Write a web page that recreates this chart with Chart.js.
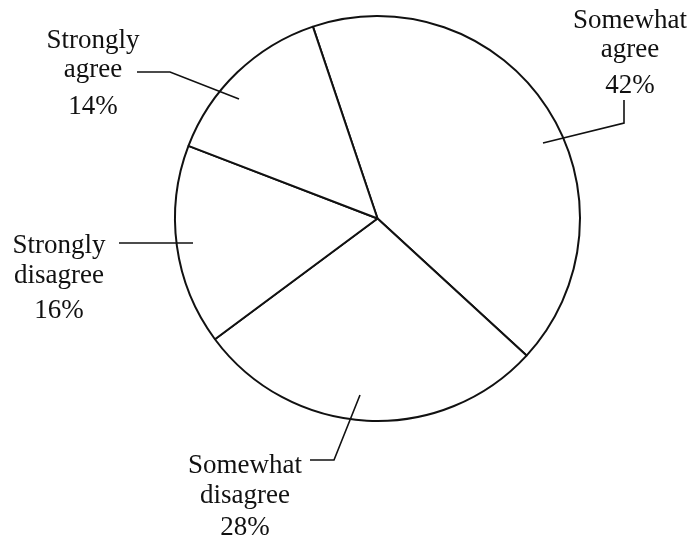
<!DOCTYPE html>
<html>
<head>
<meta charset="utf-8">
<script src="https://cdn.jsdelivr.net/npm/chart.js@4.4.0/dist/chart.umd.min.js"></script>
<style>
  body { margin: 0; background: #fff; }
</style>
</head>
<body>
<canvas id="survey" width="692" height="539"></canvas>
<script>
var categories = ["Somewhat agree", "Somewhat disagree", "Strongly disagree", "Strongly agree"];
var percents = [42, 28, 16, 14];

// label placement: text centre x, baselines of the 3 lines, leader path
var labelLayout = [
  { x: 630, lines: [28, 57, 93],    leader: [[624, 100], [624, 123], [543, 143]] },
  { x: 245, lines: [473, 503, 535], leader: [[310, 460], [334, 460], [360, 395]] },
  { x: 59,  lines: [253, 283, 318], leader: [[119, 243], [193, 243]] },
  { x: 93,  lines: [48, 77, 114],   leader: [[137, 72], [170, 72], [239, 99]] }
];

var calloutPlugin = {
  id: 'callouts',
  afterDraw: function(chart) {
    var ctx = chart.ctx;
    ctx.save();
    ctx.fillStyle = '#111';
    ctx.strokeStyle = '#111';
    ctx.lineWidth = 1.6;
    ctx.font = '27px "Liberation Serif", "Times New Roman", serif';
    ctx.textAlign = 'center';
    ctx.textBaseline = 'alphabetic';
    chart.data.labels.forEach(function(lbl, i) {
      var lay = labelLayout[i];
      var sp = lbl.indexOf(' ');
      var txt = [lbl.slice(0, sp), lbl.slice(sp + 1), chart.data.datasets[0].data[i] + '%'];
      txt.forEach(function(t, j) {
        ctx.fillText(t, lay.x, lay.lines[j]);
      });
      ctx.beginPath();
      lay.leader.forEach(function(p, k) {
        if (k == 0) ctx.moveTo(p[0], p[1]); else ctx.lineTo(p[0], p[1]);
      });
      ctx.stroke();
    });
    ctx.restore();
  }
};

var surveyChart = document.getElementById("survey").getContext('2d');
var myChart = new Chart(surveyChart, {
  type: 'pie',
  data: {
    labels: categories,
    datasets: [{
      data: percents,
      backgroundColor: '#fff',
      borderColor: '#111',
      borderWidth: 2
    }]
  },
  options: {
    responsive: false,
    animation: false,
    rotation: -18.6,
    layout: { padding: { left: 174, right: 111, top: 15, bottom: 117 } },
    plugins: {
      legend: { display: false },
      tooltip: { enabled: false }
    }
  },
  plugins: [calloutPlugin]
});
</script>
</body>
</html>
